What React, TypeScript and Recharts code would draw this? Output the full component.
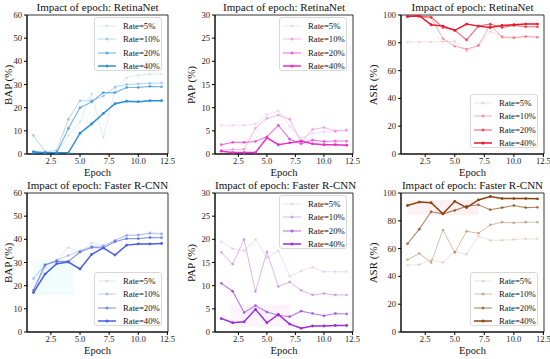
import { LineChart, Line, XAxis, YAxis, ReferenceArea } from "recharts"

const EPOCHS = [1, 2, 3, 4, 5, 6, 7, 8, 9, 10, 11, 12]
const RATES = ["Rate=5%", "Rate=10%", "Rate=20%", "Rate=40%"]
const X_TICKS = [2.5, 5, 7.5, 10, 12.5]

// RetinaNet
const retinaBap5 = [0.5, 0.3, 0.5, 8, 14, 26, 7, 28, 33, 34, 34.5, 34.5]
const retinaBap10 = [8, 1, 1.5, 15, 23, 23, 25, 29, 30, 30.3, 30.5, 30.7]
const retinaBap20 = [0.5, 0.5, 0.5, 11, 20, 22.5, 26.5, 26.5, 28.7, 28.7, 29.2, 29]
const retinaBap40 = [1, 0.5, 0.5, 0.5, 9, 13, 17.5, 21.7, 22.8, 22.6, 23, 23]

const retinaPap5 = [6.2, 6.2, 6.2, 6.5, 8.5, 9.3, 6, 3.3, 4.5, 4.8, 4.8, 5]
const retinaPap10 = [0.8, 1, 1, 5.6, 7.7, 8.4, 7.5, 2.5, 5.3, 5.7, 5, 5.2]
const retinaPap20 = [2, 2.5, 2.5, 2.7, 3.7, 6.2, 3.2, 2.2, 3, 2.7, 2.8, 2.8]
const retinaPap40 = [0.6, 0.3, 0.3, 0.3, 3.5, 2, 2.4, 2.8, 2.2, 2, 2, 1.9]

const retinaAsr5 = [80.5, 80.5, 80.5, 81, 81, 74, 78, 88, 85, 84, 84.5, 84]
const retinaAsr10 = [99, 99, 98, 83, 77.5, 75.5, 78, 93, 84, 83.5, 84.5, 84]
const retinaAsr20 = [99, 99, 98.5, 91, 89, 82, 92, 93.5, 91, 92.5, 91.5, 91.5]
const retinaAsr40 = [99, 99.5, 93, 92, 89, 93.5, 92, 91, 92.5, 93, 93.5, 93.5]

// Faster R-CNN
const fasterBap5 = [17, 28, 31, 36.5, 34.5, 38.5, 37.5, 39.5, 41.5, 42, 43, 42.5]
const fasterBap10 = [23, 29, 31, 33, 35, 37, 37, 39.5, 41.8, 41.8, 42.5, 42.3]
const fasterBap20 = [18, 29, 30.5, 30.5, 34.5, 36.5, 36.3, 39, 40.3, 40.3, 40.8, 40.7]
const fasterBap40 = [17, 25, 29.5, 30.2, 27.2, 33.5, 36.3, 33.2, 37.5, 38, 38, 38.2]

const fasterPap5 = [19.5, 18, 17.5, 20, 16, 17.5, 12, 13.2, 14, 13, 13, 13]
const fasterPap10 = [17.2, 14.6, 20, 8.7, 17.3, 9.8, 10.8, 9, 8, 8.3, 8, 8]
const fasterPap20 = [10.5, 8.8, 4.2, 5.7, 4.3, 3.6, 3.3, 4.5, 4, 3.5, 4, 3.9]
const fasterPap40 = [2.9, 2, 2.2, 4.9, 2, 3.8, 1.7, 0.8, 1.3, 1.3, 1.4, 1.4]

const fasterAsr5 = [48, 48.5, 52, 50, 58, 56, 69, 66, 66, 66.5, 67, 67]
const fasterAsr10 = [52, 56.5, 50, 73.5, 57, 72.5, 71, 77, 79, 78.5, 79, 79]
const fasterAsr20 = [63.5, 74, 86.5, 85, 87.5, 90.5, 91.5, 88, 89.5, 91, 89.5, 89.7]
const fasterAsr40 = [91, 93.5, 93, 85, 94, 89.5, 95, 97.5, 96, 96, 96, 95.8]

const OPACITY = [0.15, 0.35, 0.65, 1]
const WIDTH = [1, 1, 1.1, 1.5]
const FONT = "'Liberation Serif', 'Times New Roman', serif"

type Band = { x1: number; x2: number; y1: number; y2: number; fill: string }

type Panel = {
  title: string
  yLabel: string
  yMax: number
  yTicks: number[]
  color: string
  series: number[][]
  legendTop: boolean
  col: number
  row: number
  bands: Band[]
}

const PANELS: Panel[] = [
  { title: "Impact of epoch: RetinaNet", yLabel: "BAP (%)", yMax: 60, yTicks: [0, 10, 20, 30, 40, 50, 60], color: "#2a8fd8", series: [retinaBap5, retinaBap10, retinaBap20, retinaBap40], legendTop: true, col: 0, row: 0, bands: [] },
  { title: "Impact of epoch: RetinaNet", yLabel: "PAP (%)", yMax: 30, yTicks: [0, 5, 10, 15, 20, 25, 30], color: "#e62ec8", series: [retinaPap5, retinaPap10, retinaPap20, retinaPap40], legendTop: true, col: 1, row: 0, bands: [] },
  { title: "Impact of epoch: RetinaNet", yLabel: "ASR (%)", yMax: 100, yTicks: [0, 20, 40, 60, 80, 100], color: "#e8192c", series: [retinaAsr5, retinaAsr10, retinaAsr20, retinaAsr40], legendTop: false, col: 2, row: 0, bands: [] },
  { title: "Impact of epoch: Faster R-CNN", yLabel: "BAP (%)", yMax: 60, yTicks: [0, 10, 20, 30, 40, 50, 60], color: "#4a5ee0", series: [fasterBap5, fasterBap10, fasterBap20, fasterBap40], legendTop: false, col: 0, row: 1, bands: [{ x1: 1, x2: 4.5, y1: 16, y2: 31, fill: "#f1fcfc" }] },
  { title: "Impact of epoch: Faster R-CNN", yLabel: "PAP (%)", yMax: 30, yTicks: [0, 5, 10, 15, 20, 25, 30], color: "#9b2fd6", series: [fasterPap5, fasterPap10, fasterPap20, fasterPap40], legendTop: true, col: 1, row: 1, bands: [{ x1: 1.8, x2: 7, y1: 1, y2: 6, fill: "#fef5fc" }] },
  { title: "Impact of epoch: Faster R-CNN", yLabel: "ASR (%)", yMax: 100, yTicks: [0, 20, 40, 60, 80, 100], color: "#8b4513", series: [fasterAsr5, fasterAsr10, fasterAsr20, fasterAsr40], legendTop: false, col: 2, row: 1, bands: [{ x1: 1, x2: 7, y1: 84, y2: 95, fill: "#fdf1f3" }] },
]

// plot-area boxes in page pixels: [chartLeft, plotLeft, plotRight, chartWidth]
const COL_X = [[0, 27, 168, 183], [183, 215, 353, 183], [365, 401, 544, 185]]
// [chartTop, plotTop, plotBottom, chartHeight]
const ROW_Y = [[0, 15, 154, 178], [178, 193, 332, 181]]

function LegendBox({ color, x, y }: { color: string; x: number; y: number }) {
  return (
    <div
      style={{
        position: "absolute",
        left: x,
        top: y,
        width: 68,
        height: 54,
        border: "1px solid #d8d8d8",
        borderRadius: 3,
        background: "rgba(255,255,255,0.85)",
        boxSizing: "border-box",
      }}
    >
      {RATES.map((r, i) => (
        <div key={r} style={{ position: "absolute", left: 2, top: 2 + i * 13.3, height: 12, display: "flex", alignItems: "center" }}>
          <svg width={20} height={12}>
            <line x1={1} y1={6} x2={19} y2={6} stroke={color} strokeOpacity={OPACITY[i]} strokeWidth={WIDTH[i]} />
            <circle cx={10} cy={6} r={1.5} fill={color} fillOpacity={OPACITY[i]} />
          </svg>
          <span style={{ marginLeft: 6, fontFamily: FONT, fontSize: 8.7, color: "#111", whiteSpace: "nowrap" }}>{r}</span>
        </div>
      ))}
    </div>
  )
}

function PanelChart({ p }: { p: Panel }) {
  const [cx, pl, pr, cw] = COL_X[p.col]
  const [ry, pt, pb, rh] = ROW_Y[p.row]
  const data = EPOCHS.map((e, i) => ({
    epoch: e,
    s0: p.series[0][i],
    s1: p.series[1][i],
    s2: p.series[2][i],
    s3: p.series[3][i],
  }))
  const tick = { fontSize: 8.6, fontFamily: FONT, fill: "#222" }
  const legendX = pr - 74
  const legendY = p.legendTop ? pt + 2 : pb - 60
  return (
    <>
      <div style={{ position: "absolute", left: cx, top: ry, width: cw, height: rh }}>
        <LineChart width={cw} height={rh} data={data} margin={{ top: pt - ry, bottom: 0, left: 0, right: cx + cw - pr }}>
          <XAxis
            dataKey="epoch"
            type="number"
            domain={[0.45, 12.55]}
            ticks={X_TICKS}
            tickFormatter={(v: number) => v.toFixed(1)}
            height={ry + rh - pb}
            tickSize={3}
            tickMargin={1}
            tick={tick}
            stroke="#000"
            interval={0}
            allowDataOverflow
          />
          <YAxis
            type="number"
            domain={[0, p.yMax]}
            ticks={p.yTicks}
            width={pl - cx}
            tickSize={3}
            tickMargin={2}
            tick={tick}
            stroke="#000"
            interval={0}
            allowDataOverflow
          />
          {p.bands.map((b, i) => (
            <ReferenceArea key={`b${i}`} x1={b.x1} x2={b.x2} y1={b.y1} y2={b.y2} fill={b.fill} fillOpacity={1} stroke="none" />
          ))}
          <ReferenceArea x1={0.45} x2={12.55} y1={0} y2={p.yMax} fill="none" stroke="#000" strokeWidth={0.8} ifOverflow="visible" />
          {[0, 1, 2, 3].map((i) => (
            <Line
              key={i}
              type="linear"
              dataKey={`s${i}`}
              name={RATES[i]}
              stroke={p.color}
              strokeOpacity={OPACITY[i]}
              strokeWidth={WIDTH[i]}
              dot={{ r: 1.4, fill: p.color, fillOpacity: OPACITY[i], stroke: "none" }}
              activeDot={false}
              isAnimationActive={false}
            />
          ))}
        </LineChart>
      </div>
      <div style={{ position: "absolute", left: pl, width: pr - pl, top: ry + 1, textAlign: "center", fontFamily: FONT, fontSize: 11, color: "#111", whiteSpace: "nowrap" }}>
        {p.title}
      </div>
      <div style={{ position: "absolute", left: pl, width: pr - pl, top: pb + 13, textAlign: "center", fontFamily: FONT, fontSize: 10.5, color: "#111" }}>
        Epoch
      </div>
      <div
        style={{
          position: "absolute",
          left: cx + 8,
          top: (pt + pb) / 2,
          transform: "translate(-50%, -50%) rotate(-90deg)",
          fontFamily: FONT,
          fontSize: 11,
          color: "#111",
          whiteSpace: "nowrap",
        }}
      >
        {p.yLabel}
      </div>
      <LegendBox color={p.color} x={legendX} y={legendY} />
    </>
  )
}

export default function App() {
  return (
    <div style={{ position: "absolute", left: 0, top: 0, width: 550, height: 359, background: "#fff", overflow: "hidden" }}>
      {PANELS.map((p, i) => (
        <PanelChart key={i} p={p} />
      ))}
    </div>
  )
}
